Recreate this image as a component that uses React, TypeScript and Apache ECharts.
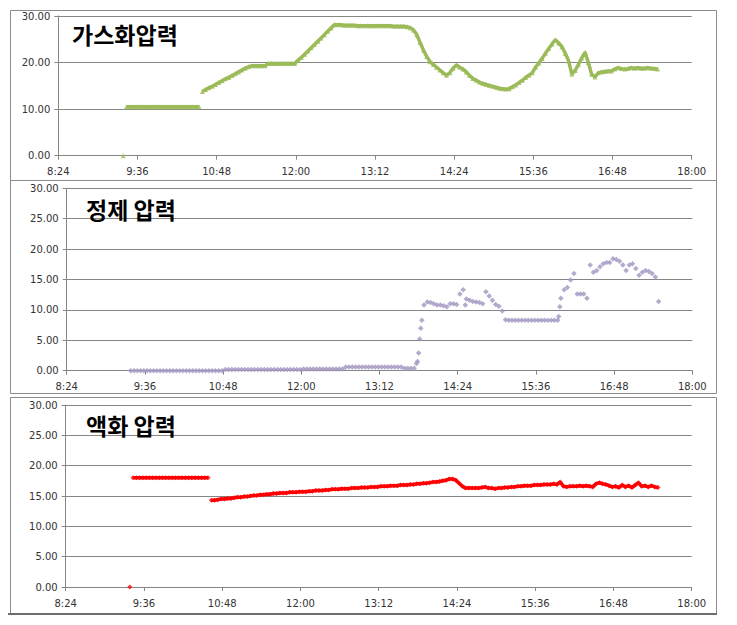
import React, { useEffect, useRef } from "react";
import * as echarts from "echarts";

// sampling: minutes after midnight, first sample 9:23, one sample every 3 minutes
const START_MIN = 563;
const STEP_MIN = 3;

const xTickMin = 504; // 8:24
const xTickMax = 1080; // 18:00
const xTickStep = 72; // 1:12

const titles = ["가스화압력", "정제 압력", "액화 압력"];

const gasValues = [
  0, 10.5, 10.5, 10.5, 10.5, 10.5, 10.5, 10.5, 10.5, 10.5,
  10.5, 10.5, 10.5, 10.5, 10.5, 10.5, 10.5, 10.5, 10.5, 10.5,
  10.5, 10.5, 10.5, 10.5, 13.8, 14.2, 14.6, 14.9, 15.3, 15.7,
  16.1, 16.5, 16.8, 17.2, 17.6, 18.0, 18.4, 18.8, 19.1, 19.3,
  19.3, 19.3, 19.3, 19.3, 19.8, 19.8, 19.8, 19.8, 19.8, 19.8,
  19.8, 19.8, 19.8, 20.5, 21.1, 21.8, 22.5, 23.2, 23.9, 24.6,
  25.3, 26.0, 26.7, 27.4, 28.1, 28.1, 28.1, 28.0, 28.0, 28.0,
  28.0, 27.9, 27.9, 27.9, 27.9, 27.9, 27.9, 27.9, 27.9, 27.9,
  27.9, 27.9, 27.8, 27.8, 27.8, 27.8, 27.7, 27.5, 27.0, 26.0,
  24.3, 22.7, 21.3, 20.2, 19.6, 19.0, 18.4, 17.8, 17.3, 17.8,
  18.8, 19.5, 19.0, 18.6, 18.0, 17.2, 16.6, 16.2, 15.8, 15.5,
  15.3, 15.1, 14.9, 14.7, 14.5, 14.4, 14.3, 14.4, 14.8, 15.2,
  15.7, 16.2, 16.8, 17.3, 17.8, 19.0, 19.9, 20.9, 22.0, 23.0,
  24.0, 24.9, 24.2, 23.4, 22.0, 20.4, 17.5, 18.3, 19.6, 21.0,
  22.2, 20.0, 17.5, 16.9, 17.8, 18.0, 18.1, 18.2, 18.2, 18.6,
  18.9, 18.7, 18.6, 18.7, 18.9, 18.8, 18.9, 18.8, 18.8, 18.9,
  18.8, 18.7, 18.6,
];
// indices after which the logged trace is interrupted
const gasBreaks = [0, 23];

const purifyValues = [
  0.0, 0.0, 0.0, 0.0, 0.0, 0.0, 0.0, 0.0, 0.0, 0.0,
  0.0, 0.0, 0.0, 0.0, 0.0, 0.0, 0.0, 0.0, 0.0, 0.0,
  0.0, 0.0, 0.0, 0.0, 0.0, 0.0, 0.0, 0.0, 0.0, 0.2,
  0.2, 0.2, 0.2, 0.2, 0.2, 0.2, 0.2, 0.2, 0.2, 0.2,
  0.2, 0.2, 0.2, 0.2, 0.2, 0.2, 0.2, 0.2, 0.2, 0.2,
  0.2, 0.2, 0.2, 0.3, 0.3, 0.3, 0.3, 0.3, 0.3, 0.3,
  0.3, 0.3, 0.3, 0.3, 0.3, 0.3, 0.6, 0.6, 0.6, 0.6,
  0.6, 0.6, 0.6, 0.6, 0.6, 0.6, 0.6, 0.6, 0.6, 0.6,
  0.6, 0.6, 0.6, 0.6, 0.4, 0.4, 0.4, 0.4, 1.5, 7.0,
  10.8, 11.3, 11.2, 11.0, 10.8, 10.8, 10.7, 10.5, 11.0, 11.0,
  10.9, 12.6, 13.3, 11.8, 11.6, 11.4, 11.3, 11.2, 11.0, 13.0,
  12.3, 11.6, 10.9, 10.6, 9.8, 8.4, 8.3, 8.3, 8.3, 8.3,
  8.3, 8.3, 8.3, 8.3, 8.3, 8.3, 8.3, 8.3, 8.3, 8.3,
  8.3, 8.3, 11.9, 13.3, 13.7, 14.9, 16.0, 12.6, 12.6, 12.6,
  11.9, 17.4, 16.2, 16.5, 17.1, 17.6, 17.8, 17.8, 18.4, 18.3,
  18.0, 17.4, 16.5, 17.4, 17.6, 16.8, 15.7, 16.2, 16.5, 16.3,
  16.0, 15.4, 11.4,
];
const purifyExtraTimes = [826, 828, 829, 831, 957, 958, 871];
const purifyExtraValues = [1.2, 2.9, 5.2, 8.3, 8.9, 10.5, 10.8];

const liquefyValues = [
  0, 18.0, 18.0, 18.0, 18.0, 18.0, 18.0, 18.0, 18.0, 18.0,
  18.0, 18.0, 18.0, 18.0, 18.0, 18.0, 18.0, 18.0, 18.0, 18.0,
  18.0, 18.0, 18.0, 18.0, 18.0, 14.3, 14.3, 14.4, 14.5, 14.5,
  14.6, 14.6, 14.7, 14.8, 14.8, 14.9, 14.9, 15.0, 15.1, 15.1,
  15.2, 15.2, 15.3, 15.3, 15.4, 15.4, 15.5, 15.5, 15.5, 15.6,
  15.6, 15.6, 15.7, 15.7, 15.7, 15.8, 15.8, 15.9, 15.9, 15.9,
  16.0, 16.0, 16.1, 16.1, 16.1, 16.2, 16.2, 16.2, 16.3, 16.3,
  16.3, 16.4, 16.4, 16.4, 16.5, 16.5, 16.5, 16.6, 16.6, 16.6,
  16.7, 16.7, 16.7, 16.8, 16.8, 16.8, 16.9, 16.9, 17.0, 17.0,
  17.1, 17.1, 17.2, 17.3, 17.3, 17.4, 17.5, 17.6, 17.8, 17.8,
  17.6, 17.1, 16.6, 16.3, 16.3, 16.3, 16.3, 16.3, 16.4, 16.5,
  16.3, 16.3, 16.2, 16.3, 16.3, 16.4, 16.4, 16.5, 16.5, 16.6,
  16.6, 16.7, 16.7, 16.7, 16.8, 16.8, 16.8, 16.9, 16.9, 16.9,
  17.0, 16.9, 17.3, 16.6, 16.5, 16.6, 16.6, 16.6, 16.7, 16.6,
  16.7, 16.6, 16.5, 17.0, 17.2, 17.0, 16.9, 16.7, 16.5, 16.6,
  16.4, 16.8, 16.5, 16.7, 16.4, 16.8, 17.2, 16.6, 16.7, 16.5,
  16.7, 16.5, 16.4,
];
const liquefyBreaks = [0, 24];

const toPairs = (vals: number[]) => vals.map((v, i) => [START_MIN + i * STEP_MIN, v]);

// split the sampled trace at interruption indices
const segmentsOf = (vals: number[], breaks: number[]) => {
  const pairs = toPairs(vals);
  const segs: number[][][] = [];
  let start = 0;
  [...breaks, pairs.length - 1].forEach((b) => {
    segs.push(pairs.slice(start, b + 1));
    start = b + 1;
  });
  return segs.filter((s) => s.length > 1);
};

const fmtTime = (v: number) => `${Math.floor(v / 60)}:${String(Math.round(v % 60)).padStart(2, "0")}`;

const FONT = "DejaVu Sans";
const LABEL_COLOR = "#333";
const GRID_COLOR = "#868686";
const GREEN = "#9BBB59";
const PURPLE = "#A195C0";
const RED = "#FF0000";

export default function App() {
  const ref = useRef<HTMLDivElement>(null);
  useEffect(() => {
    if (!ref.current) return;
    const chart = echarts.init(ref.current, undefined, { renderer: "svg" });

    const grids = [
      { left: 58.3, top: 16, width: 633.4, height: 139.7 },
      { left: 66.7, top: 188.3, width: 625.6, height: 182.4 },
      { left: 65.7, top: 405, width: 626, height: 182 },
    ];
    const yIntervals = [10, 5, 5];

    const xAxes = grids.map((_, i) => ({
      type: "value",
      gridIndex: i,
      min: xTickMin,
      max: xTickMax,
      interval: xTickStep,
      splitLine: { show: false },
      axisLine: { show: true, lineStyle: { color: GRID_COLOR, width: 1 } },
      axisTick: { show: true, length: 4, lineStyle: { color: GRID_COLOR } },
      axisLabel: {
        formatter: fmtTime,
        fontFamily: FONT,
        fontSize: 10,
        color: LABEL_COLOR,
        margin: 11,
      },
    }));
    const yAxes = grids.map((_, i) => ({
      type: "value",
      gridIndex: i,
      min: 0,
      max: 30,
      interval: yIntervals[i],
      splitLine: { show: true, lineStyle: { color: GRID_COLOR, width: 1 } },
      axisLine: { show: true, lineStyle: { color: GRID_COLOR, width: 1 } },
      axisTick: { show: true, length: 4, lineStyle: { color: GRID_COLOR } },
      axisLabel: {
        formatter: (v: number) => v.toFixed(2),
        fontFamily: FONT,
        fontSize: 10,
        color: LABEL_COLOR,
        margin: 8,
      },
    }));

    const frames = [
      { x: 10, y: 10, w: 706, h: 170 },
      { x: 10, y: 180, w: 706, h: 213 },
      { x: 10, y: 397, w: 706, h: 216 },
    ];

    const traceLines = (segs: number[][][], axis: number, color: string, width: number) =>
      segs.map((d) => ({
        type: "line",
        xAxisIndex: axis,
        yAxisIndex: axis,
        showSymbol: false,
        symbol: "none",
        lineStyle: { color, width },
        itemStyle: { color },
        data: d,
        z: 1,
      }));

    chart.setOption({
      animation: false,
      backgroundColor: "#fff",
      graphic: [
        ...frames.map((f) => ({
          type: "rect",
          shape: { x: f.x + 0.5, y: f.y + 0.5, width: f.w, height: f.h },
          style: { fill: "none", stroke: "#8c8c8c", lineWidth: 1 },
          z: -1,
          silent: true,
        })),
        {
          type: "line",
          shape: { x1: 8, y1: 614, x2: 717, y2: 614 },
          style: { stroke: "#6e6e6e", lineWidth: 2 },
          silent: true,
        },
      ],
      title: [
        { text: titles[0], left: 67, top: 17 },
        { text: titles[1], left: 81, top: 192 },
        { text: titles[2], left: 81, top: 408 },
      ].map((t) => ({
        ...t,
        textStyle: {
          fontFamily: "Noto Sans CJK KR",
          fontWeight: "bold",
          fontSize: 23,
          color: "#000",
        },
      })),
      grid: grids.map((g) => ({ ...g, containLabel: false })),
      xAxis: xAxes,
      yAxis: yAxes,
      series: [
        ...traceLines(segmentsOf(gasValues, gasBreaks), 0, GREEN, 3.5),
        {
          type: "scatter",
          xAxisIndex: 0,
          yAxisIndex: 0,
          symbol: "triangle",
          symbolSize: 5,
          itemStyle: { color: GREEN },
          data: toPairs(gasValues),
          z: 2,
        },
        {
          type: "scatter",
          xAxisIndex: 1,
          yAxisIndex: 1,
          symbol: "diamond",
          symbolSize: 5.5,
          itemStyle: { color: PURPLE },
          data: toPairs(purifyValues).concat(
            purifyExtraTimes.map((t, i) => [t, purifyExtraValues[i]])
          ),
        },
        ...traceLines(segmentsOf(liquefyValues, liquefyBreaks), 2, RED, 3.5),
        {
          type: "scatter",
          xAxisIndex: 2,
          yAxisIndex: 2,
          symbol: "diamond",
          symbolSize: 5,
          itemStyle: { color: RED },
          data: toPairs(liquefyValues),
          z: 2,
        },
      ],
    });
    return () => chart.dispose();
  }, []);
  return (
    <div
      ref={ref}
      style={{ position: "absolute", left: 0, top: 0, width: 737, height: 625, background: "#fff" }}
    />
  );
}
